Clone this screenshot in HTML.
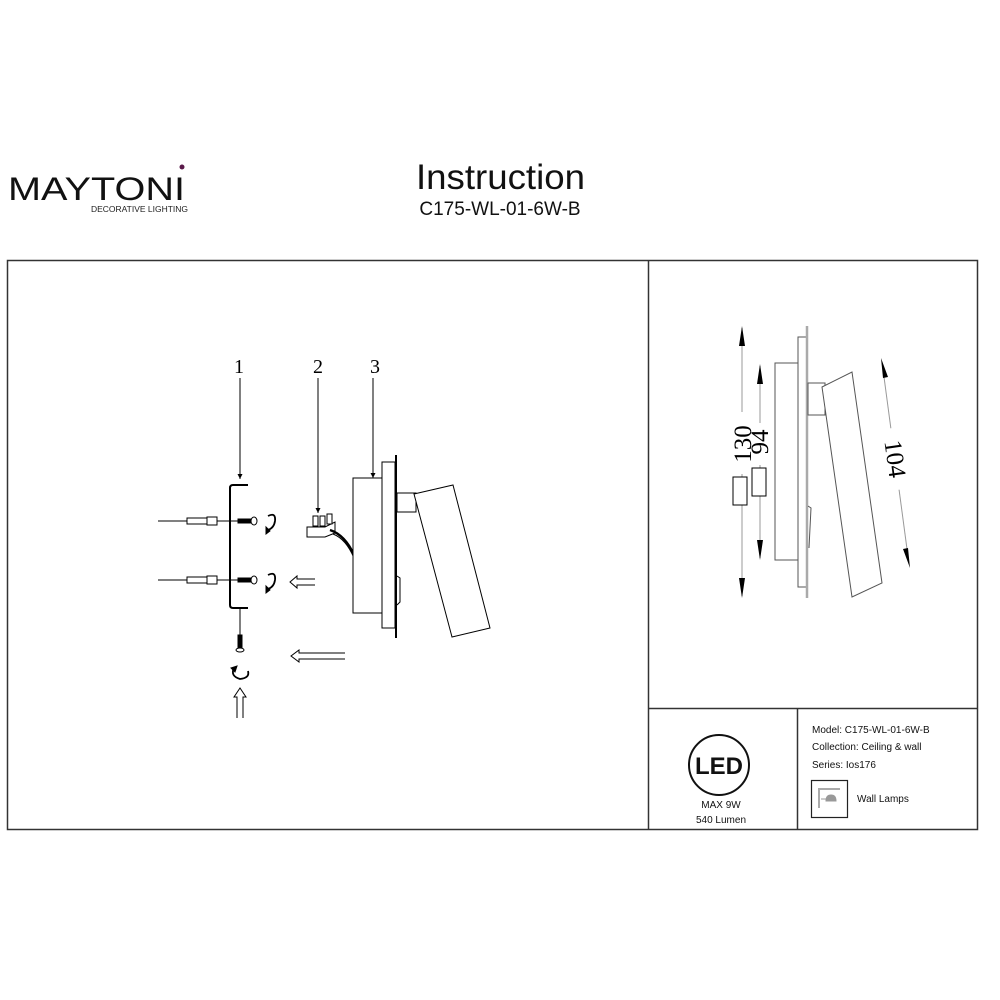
<!DOCTYPE html>
<html><head><meta charset="utf-8"><style>
html,body{margin:0;padding:0;background:#fff;}
body{width:1000px;height:1000px;position:relative;overflow:hidden;font-family:"Liberation Sans",sans-serif;}
</style></head><body>
<svg width="1000" height="1000" viewBox="0 0 1000 1000" xmlns="http://www.w3.org/2000/svg" style="position:absolute;left:0;top:0">
<defs>
<marker id="ah" viewBox="0 0 10 10" refX="10" refY="5" markerWidth="5" markerHeight="10" orient="auto" markerUnits="userSpaceOnUse"><path d="M0,0 L10,5 L0,10 z" fill="#000"/></marker>
</defs>
<!-- header -->
<text x="8" y="200" font-family="Liberation Sans,sans-serif" font-size="32" textLength="177" lengthAdjust="spacingAndGlyphs" fill="#111">MAYTONI</text>
<circle cx="182" cy="167" r="2.5" fill="#5a1a4a"/>
<text x="91" y="212" font-size="8" fill="#222" textLength="97" lengthAdjust="spacingAndGlyphs">DECORATIVE LIGHTING</text>
<text x="416" y="189" font-size="35" textLength="169" lengthAdjust="spacingAndGlyphs" fill="#111">Instruction</text>
<text x="500" y="215" font-size="19" text-anchor="middle" fill="#111">C175-WL-01-6W-B</text>
<!-- frame -->
<rect x="7.5" y="260.5" width="970" height="569" fill="none" stroke="#333" stroke-width="1.5"/>
<line x1="648.5" y1="260" x2="648.5" y2="830" stroke="#333" stroke-width="1.5"/>
<line x1="648" y1="708.5" x2="978" y2="708.5" stroke="#333" stroke-width="1.5"/>
<line x1="797.5" y1="708" x2="797.5" y2="830" stroke="#333" stroke-width="1.5"/>
<!-- left drawing -->
<g stroke="#000" fill="none" stroke-width="1">
<text x="239" y="373" font-family="Liberation Serif,serif" font-size="20" fill="#000" stroke="none" text-anchor="middle">1</text>
<text x="318" y="373" font-family="Liberation Serif,serif" font-size="20" fill="#000" stroke="none" text-anchor="middle">2</text>
<text x="375" y="373" font-family="Liberation Serif,serif" font-size="20" fill="#000" stroke="none" text-anchor="middle">3</text>
<line x1="240" y1="378" x2="240" y2="479" marker-end="url(#ah)"/>
<line x1="318" y1="378" x2="318" y2="513" marker-end="url(#ah)"/>
<line x1="373" y1="378" x2="373" y2="478" marker-end="url(#ah)"/>
<path d="M248,485 H233 Q230,485 230,488 V605 Q230,608 233,608 H248" stroke-width="2"/>
<line x1="158" y1="521" x2="255" y2="521"/>
<line x1="158" y1="580" x2="255" y2="580"/>
<rect x="187" y="518" width="20" height="6" fill="#fff"/><rect x="207" y="517" width="10" height="8" fill="#fff"/>
<rect x="187" y="577" width="20" height="6" fill="#fff"/><rect x="207" y="576" width="10" height="8" fill="#fff"/>
<rect x="238" y="519" width="15" height="4" fill="#000"/><ellipse cx="254" cy="521" rx="3" ry="4" fill="#fff"/>
<rect x="238" y="578" width="15" height="4" fill="#000"/><ellipse cx="254" cy="580" rx="3" ry="4" fill="#fff"/>
<path d="M268,516 Q276,512 275,521 Q274,528 268,530" stroke-width="1.8"/>
<path d="M266,527 L270,531 L266,534 Z" fill="#000"/>
<path d="M268,575 Q276,571 275,580 Q274,587 268,589" stroke-width="1.8"/>
<path d="M266,586 L270,590 L266,593 Z" fill="#000"/>
<line x1="240" y1="608" x2="240" y2="645"/>
<rect x="238" y="635" width="4" height="13" fill="#000"/><ellipse cx="240" cy="650" rx="4" ry="2" fill="#fff"/>
<path d="M234,668 Q230,676 240,679 Q250,678 248,671" stroke-width="1.8"/>
<path d="M231,668 L237,666 L235,672 Z" fill="#000"/>
<path d="M315,579 H297 V576 L290,582 L297,588 V585 H315"/>
<path d="M345,653 H299 V650 L291,656 L299,662 V659 H345"/>
<path d="M237,718 V697 H234 L240,688 L246,697 H243 V718"/>
<path d="M307,527 L325,527 L335,522 L335,533 L325,537 L307,537 Z" fill="#fff"/>
<rect x="313" y="516" width="5" height="10" fill="#fff"/><rect x="320" y="516" width="5" height="10" fill="#fff"/><rect x="327" y="514" width="5" height="10" fill="#fff"/>
<path d="M330,530 Q345,535 354,555" stroke-width="2.5"/>
<path d="M333,534 Q346,539 354,558" stroke-width="1"/>
<rect x="353" y="478" width="29" height="135" fill="#fff"/>
<rect x="382" y="462" width="13" height="166" fill="#fff"/>
<line x1="396" y1="455" x2="396" y2="638" stroke-width="2"/>
<rect x="397" y="493" width="19" height="19"/>
<path d="M397,576 L400,578 L400,602 L397,605"/>
<path d="M414,494 L453,485 L490,628 L452,637 Z" fill="#fff"/>
</g>
<!-- right drawing -->
<g stroke="#000" fill="none" stroke-width="1">
<line x1="742" y1="328" x2="742" y2="596" stroke="#999"/>
<path d="M742,326 L739,346 L745,346 Z M742,598 L739,578 L745,578 Z" fill="#000" stroke="none"/>
<line x1="760" y1="366" x2="760" y2="558" stroke="#999"/>
<path d="M760,364 L757,384 L763,384 Z M760,560 L757,540 L763,540 Z" fill="#000" stroke="none"/>
<rect x="733" y="477" width="14" height="28" fill="#fff"/>
<rect x="752" y="468" width="14" height="28" fill="#fff"/>
<rect x="733" y="412" width="18" height="62" fill="#fff" stroke="none"/>
<rect x="752" y="423" width="16" height="42" fill="#fff" stroke="none"/>
<text transform="translate(751,444) rotate(-90)" font-family="Liberation Serif,serif" font-size="25" fill="#000" stroke="none" text-anchor="middle">130</text>
<text transform="translate(768,442) rotate(-90)" font-family="Liberation Serif,serif" font-size="25" fill="#000" stroke="none" text-anchor="middle">94</text>
<rect x="775" y="363" width="23" height="197" fill="#fff" stroke="#555"/>
<rect x="798" y="337" width="9" height="250" fill="#fff" stroke="#555"/>
<line x1="807" y1="326" x2="807" y2="598" stroke="#aaa" stroke-width="2.5"/>
<rect x="808" y="383" width="17" height="32" fill="#fff" stroke="#555"/>
<path d="M808,506 L811,508 L809,548" stroke="#555"/>
<path d="M822,387 L852,372 L882,583 L852,597 Z" fill="#fff" stroke="#555"/>
<line x1="882" y1="362" x2="909" y2="564" stroke="#999"/>
<path d="M881,358 L883,378 L888,377 Z M910,568 L903,549 L908,548 Z" fill="#000" stroke="none"/>
<rect x="884" y="428" width="22" height="62" fill="#fff" stroke="none" transform="rotate(-8 895 459)"/>
<text transform="translate(887,460) rotate(82)" font-family="Liberation Serif,serif" font-size="25" fill="#000" stroke="none" text-anchor="middle">104</text>
</g>
<!-- bottom panel -->
<circle cx="719" cy="765" r="30" fill="none" stroke="#111" stroke-width="2"/>
<text x="719" y="774" font-size="24" font-weight="bold" text-anchor="middle" fill="#111">LED</text>
<text x="721" y="808" font-size="10" text-anchor="middle" fill="#111">MAX 9W</text>
<text x="721" y="823" font-size="10" text-anchor="middle" fill="#111">540 Lumen</text>
<text x="812" y="733" font-size="10" fill="#111">Model: C175-WL-01-6W-B</text>
<text x="812" y="750" font-size="10" fill="#111">Collection: Ceiling &amp; wall</text>
<text x="812" y="768" font-size="10" fill="#111">Series: Ios176</text>
<rect x="811.5" y="780.5" width="36" height="37" fill="none" stroke="#222" stroke-width="1.2"/>
<path d="M819,808 V789 H840" stroke="#aaa" stroke-width="2" fill="none"/>
<path d="M821,799 H826 M826,801 Q826,795 831,795 Q836,795 836,801 Z" stroke="#999" fill="#999"/>
<text x="857" y="802" font-size="10" fill="#111">Wall Lamps</text>
</svg>
</body></html>
